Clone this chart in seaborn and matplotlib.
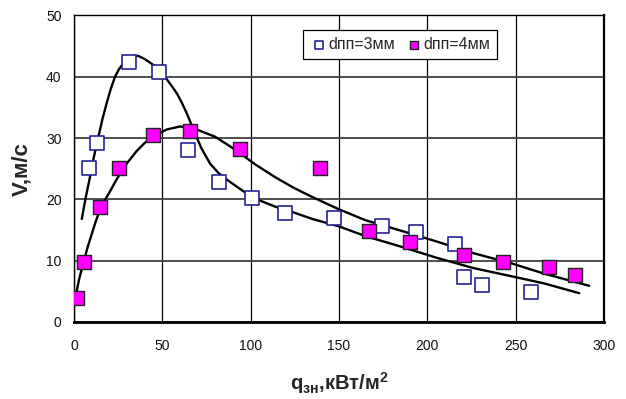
import matplotlib
matplotlib.use("Agg")
import matplotlib.pyplot as plt
import seaborn as sns

# ---- data ----
q_3mm = [8.7, 12.8, 31.2, 48.0, 64.8, 81.8, 100.7, 119.6, 147.4, 174.4, 193.3, 215.4, 220.9, 231.1, 258.9]
v_3mm = [25.1, 29.2, 42.4, 40.8, 28.1, 22.9, 20.3, 17.8, 17.0, 15.7, 14.6, 12.7, 7.3, 6.0, 4.9]

q_4mm = [1.7, 5.7, 14.7, 25.7, 44.6, 65.4, 94.1, 139.3, 167.1, 189.9, 220.9, 242.6, 269.1, 283.8]
v_4mm = [3.9, 9.8, 18.7, 25.2, 30.5, 31.2, 28.2, 25.2, 14.9, 13.0, 11.0, 9.8, 9.0, 7.7]

trend_q_3mm = [4.4, 6.7, 9.1, 11.4, 13.8, 16.1, 18.5, 20.8, 23.2, 25.6, 28.0, 30.8, 33.6, 36.4,
               39.3, 42.1, 45.0, 48.7, 52.5, 55.3, 58.2, 61.0, 63.9, 67.6, 72.0,
               77.1, 81.8, 86.6, 96.0, 104.5, 114.0, 124.0, 135.0, 150.0, 165.0, 185.0, 205.0,
               226.0, 247.0, 266.0, 286.0]
trend_v_3mm = [16.8, 20.4, 23.7, 27.1, 30.2, 33.1, 35.7, 38.0, 40.0, 41.3, 42.2, 42.9, 43.4, 43.4,
               43.0, 42.5, 41.9, 40.8, 39.6, 38.5, 37.3, 35.8, 34.0, 31.4, 28.4,
               25.8, 24.3, 23.2, 21.3, 19.9, 18.8, 17.9, 16.8, 15.6, 14.0, 12.3, 10.5,
               8.8, 7.5, 6.3, 4.7]

trend_q_4mm = [1.0, 3.0, 5.3, 7.6, 10.0, 12.3, 14.7, 17.3, 20.0, 24.2, 30.0, 35.5, 40.0, 45.0,
               52.5, 60.0, 68.6, 80.0, 91.3, 102.6, 114.0, 124.3, 134.8, 149.8, 165.0, 185.0,
               205.6, 226.4, 247.2, 266.0, 291.6]
trend_v_4mm = [4.3, 7.1, 9.6, 12.1, 14.3, 16.4, 18.3, 19.8, 21.1, 23.3, 25.9, 27.9, 29.2, 30.3,
               31.4, 31.9, 31.5, 30.2, 28.1, 25.7, 23.6, 21.9, 20.4, 18.4, 16.6, 14.9,
               13.1, 11.2, 9.6, 7.9, 5.9]

x_ticks = [0, 50, 100, 150, 200, 250, 300]
y_ticks = [0, 10, 20, 30, 40, 50]

label_3mm = "dпп=3мм"
label_4mm = "dпп=4мм"
x_label = r"q$_{\mathregular{зн}}$,кВт/м$^{\mathregular{2}}$"
y_label = "V,м/с"

# ---- style ----
sns.set_style("white")
plt.rcParams["font.family"] = ["Liberation Sans", "DejaVu Sans"]
plt.rcParams["mathtext.fontset"] = "custom"
plt.rcParams["mathtext.rm"] = "Liberation Sans:bold"
plt.rcParams["mathtext.it"] = "Liberation Sans:bold"
plt.rcParams["mathtext.bf"] = "Liberation Sans:bold"

fig = plt.figure(figsize=(6.26, 3.99), dpi=100)
ax = fig.add_axes([0.1182, 0.1930, 0.8467, 0.7682])

sns.lineplot(x=trend_q_3mm, y=trend_v_3mm, sort=False, estimator=None,
             color="black", lw=1.7, ax=ax, zorder=2,
             solid_joinstyle="round", solid_capstyle="round")
sns.lineplot(x=trend_q_4mm, y=trend_v_4mm, sort=False, estimator=None,
             color="black", lw=1.7, ax=ax, zorder=2,
             solid_joinstyle="round", solid_capstyle="round")

sns.scatterplot(x=q_3mm, y=v_3mm, marker="s", s=95, facecolor="white",
                edgecolor="#23239a", linewidth=1.2, ax=ax, zorder=3, label=label_3mm)
sns.scatterplot(x=q_4mm, y=v_4mm, marker="s", s=95, facecolor="#ff00ff",
                edgecolor="#222222", linewidth=1.0, ax=ax, zorder=4, label=label_4mm)

ax.set_xlim(0, 300)
ax.set_ylim(0, 50)
ax.set_xticks(x_ticks)
ax.set_yticks(y_ticks)
ax.set_xticklabels([str(t) for t in x_ticks])
ax.set_yticklabels([str(t) for t in y_ticks])
ax.tick_params(axis="both", length=0, labelsize=10, colors="#111111")
ax.tick_params(axis="x", pad=12.5)
ax.tick_params(axis="y", pad=9)

ax.xaxis.grid(True, color="black", lw=0.9)
ax.yaxis.grid(True, color="#404040", lw=1.3)
ax.set_axisbelow(True)

for side in ["top", "left", "right"]:
    ax.spines[side].set_color("black")
    ax.spines[side].set_linewidth(1.0)
ax.spines["bottom"].set_color("black")
ax.spines["bottom"].set_linewidth(2.0)
ax.spines["right"].set_linewidth(1.6)

ax.set_xlabel(x_label, fontsize=14.5, fontweight="bold")
ax.set_ylabel(y_label, fontsize=16, fontweight="bold")
ax.xaxis.set_label_coords(0.5, -0.199)
ax.xaxis.label.set_va("center")
ax.yaxis.set_label_coords(-0.0987, 0.5)
ax.yaxis.label.set_va("center")

handles, labels = ax.get_legend_handles_labels()
leg = ax.legend(handles, labels, ncol=2, loc="upper left",
                bbox_to_anchor=(0.432, 0.953), borderaxespad=0, fontsize=11.5,
                markerscale=0.6, frameon=True, fancybox=False, framealpha=1,
                edgecolor="black", borderpad=0.45, handletextpad=0.05,
                columnspacing=0.6, handlelength=1.1)
leg.get_frame().set_linewidth(0.9)

fig.savefig("out.png", dpi=100)
